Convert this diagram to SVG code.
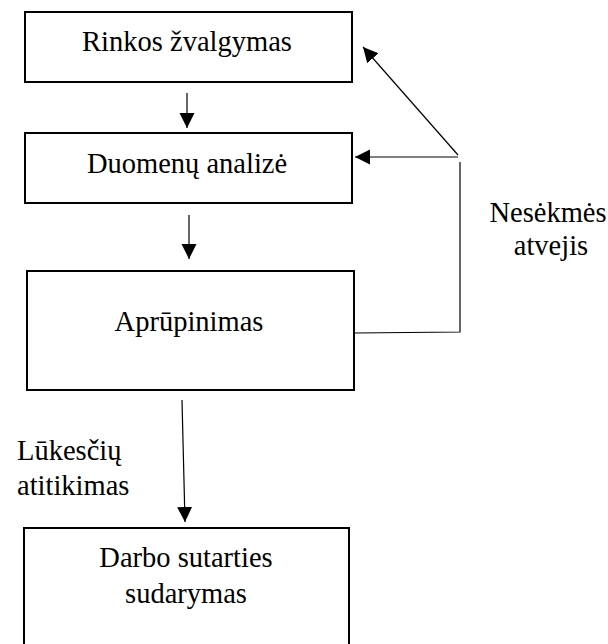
<svg xmlns="http://www.w3.org/2000/svg" width="608" height="644" viewBox="0 0 608 644">
  <style>
    .box { fill: #ffffff; stroke: #000000; stroke-width: 2; }
    .lbl { font-family: 'Liberation Serif', 'DejaVu Serif', serif; font-size: 28.5px; fill: #000000; }
    .mid { text-anchor: middle; }
    .conn { fill: none; stroke: #000000; stroke-width: 1.2; }
  </style>
  <defs>
    <marker id="arrow" markerUnits="userSpaceOnUse" markerWidth="16" markerHeight="16" refX="15" refY="7.5" orient="auto">
      <path d="M0,0 L15,7.5 L0,15 Z" fill="#000000"/>
    </marker>
  </defs>
  <rect width="608" height="644" fill="#ffffff"/>

  <g id="node-rinkos">
    <rect class="box" x="25" y="12" width="327" height="70"/>
    <text class="lbl mid" x="187" y="51">Rinkos žvalgymas</text>
  </g>

  <g id="node-duomenu">
    <rect class="box" x="25" y="133" width="327" height="70"/>
    <text class="lbl mid" x="187" y="173">Duomenų analizė</text>
  </g>

  <g id="node-aprupinimas">
    <rect class="box" x="27" y="271" width="327" height="119"/>
    <text class="lbl mid" x="189" y="331">Aprūpinimas</text>
  </g>

  <g id="node-darbo">
    <!-- bottom edge runs past the lower border of the sheet -->
    <rect class="box" x="24" y="528" width="325" height="124"/>
    <text class="lbl mid" x="186" y="567">Darbo sutarties</text>
    <text class="lbl mid" x="186" y="603">sudarymas</text>
  </g>

  <g id="connectors">
    <line class="conn" x1="187" y1="93" x2="187" y2="128" marker-end="url(#arrow)"/>
    <line class="conn" x1="189" y1="215" x2="189" y2="259" marker-end="url(#arrow)"/>
    <line class="conn" x1="182" y1="400" x2="185" y2="522" marker-end="url(#arrow)"/>
    <!-- failure feedback loop -->
    <polyline class="conn" points="355,333 460,332 460,162"/>
    <line class="conn" x1="458" y1="157" x2="355" y2="157" marker-end="url(#arrow)"/>
    <line class="conn" x1="458" y1="155" x2="363" y2="47" marker-end="url(#arrow)"/>
  </g>

  <g id="edge-labels">
    <text class="lbl mid" x="548" y="222">Nesėkmės</text>
    <text class="lbl mid" x="551" y="255">atvejis</text>
    <text class="lbl" x="17" y="460">Lūkesčių</text>
    <text class="lbl" x="17" y="495">atitikimas</text>
  </g>
</svg>
